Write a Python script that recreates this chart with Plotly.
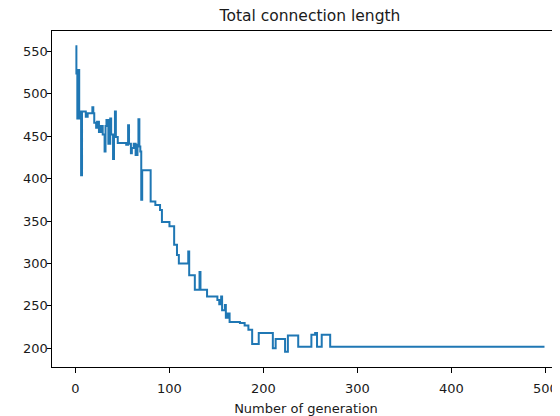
import plotly.graph_objects as go

# Generation index where the value changes, and the value from that generation on
generation = [0, 1, 2, 3, 4, 5, 6, 7, 11, 13, 18, 19, 20, 22, 23, 25, 27, 29, 31, 32,
              33, 35, 37, 38, 40, 41, 42, 43, 45, 54, 56, 57, 59, 60, 62, 64, 66, 67, 68, 69,
              70, 71, 80, 85, 90, 92, 100, 105, 108, 110, 120, 121, 127, 132, 133, 140, 151, 153, 155, 156,
              159, 160, 162, 164, 175, 180, 184, 188, 195, 210, 213, 223, 226, 237, 251, 255, 257, 262, 271, 499]
total_length = [556, 524, 471, 528, 471, 479, 404, 479, 473, 477, 484, 477, 466, 460, 467, 455, 462, 452, 432, 462,
                469, 441, 471, 452, 423, 450, 479, 449, 442, 440, 463, 441, 430, 436, 441, 428, 440, 470, 438, 432,
                375, 410, 373, 369, 363, 349, 344, 322, 310, 300, 314, 286, 269, 290, 269, 261, 257, 252, 261, 245,
                251, 236, 241, 231, 230, 227, 222, 205, 218, 200, 211, 196, 215, 202, 216, 218, 202, 216, 202, 202]

x_ticks = [0, 100, 200, 300, 400, 500]
y_ticks = [200, 250, 300, 350, 400, 450, 500, 550]

FONT = "DejaVu Sans"

fig = go.Figure()
fig.add_trace(go.Scatter(
    x=generation, y=total_length, mode="lines",
    line=dict(color="#1f77b4", width=2, shape="hv"),
    showlegend=False, hoverinfo="skip",
))

# the page body has an 8px margin, so the figure is 8px smaller and offset
fig.update_layout(
    width=552, height=408,
    margin=dict(l=44, r=0, t=23, b=49, autoexpand=False),
    paper_bgcolor="white", plot_bgcolor="white",
    font=dict(family=FONT, size=13, color="#1a1a1a"),
    title=dict(
        text="Total connection length",
        x=(310 - 52) / 508, xref="paper", xanchor="center",
        y=1, yref="paper", yanchor="bottom", pad=dict(b=10),
        automargin=False,
        font=dict(family=FONT, size=15.5, color="#1a1a1a"),
    ),
)

fig.update_xaxes(
    range=[-24.95, 515.5], automargin=False,
    tickvals=x_ticks, ticktext=[str(v) for v in x_ticks],
    ticks="outside", ticklen=4.5, tickwidth=1, tickcolor="#000",
    showline=True, linecolor="#000", linewidth=1, mirror=True,
    showgrid=False, zeroline=False, ticklabelstandoff=5,
    title=dict(text="Number of generation", standoff=11, font=dict(family=FONT, size=13)),
    tickfont=dict(family=FONT, size=13),
)
fig.update_yaxes(
    range=[178.0, 574.0], automargin=False,
    tickvals=y_ticks, ticktext=[str(v) for v in y_ticks],
    ticks="outside", ticklen=4.5, tickwidth=1, tickcolor="#000",
    showline=True, linecolor="#000", linewidth=1, mirror=False,
    showgrid=False, zeroline=False, ticklabelstandoff=-4,
    tickfont=dict(family=FONT, size=13),
)

fig.write_html("out.html")
